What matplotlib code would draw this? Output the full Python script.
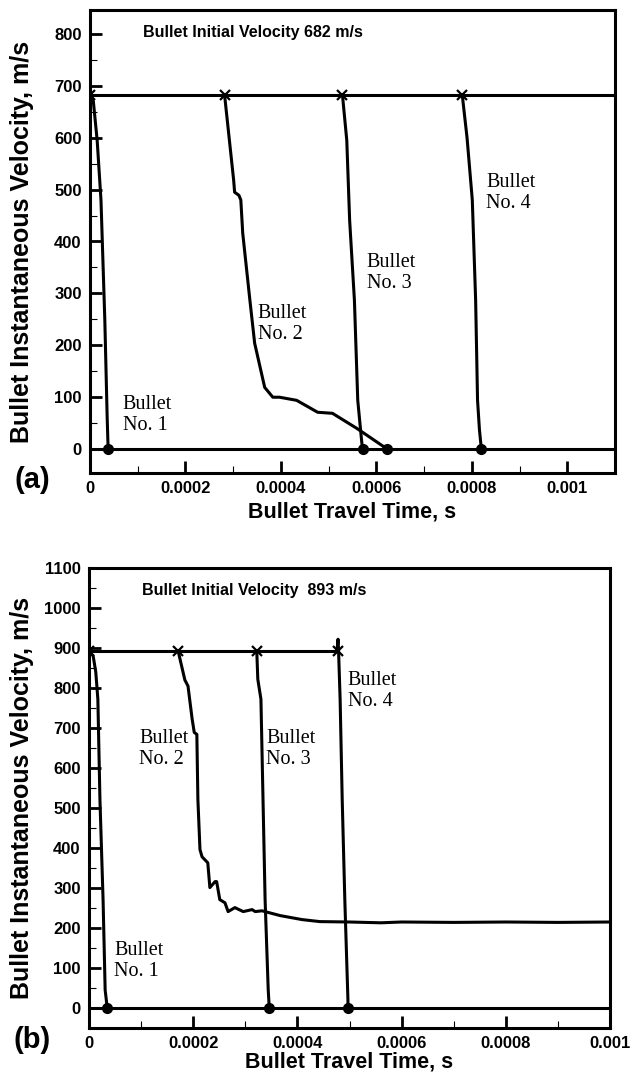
import matplotlib
matplotlib.use('Agg')
import matplotlib.pyplot as plt
from matplotlib.ticker import MultipleLocator, FuncFormatter

plt.rcParams['font.family'] = 'Liberation Sans'
plt.rcParams['font.weight'] = 'bold'

# ---- panel (a): initial velocity 682 m/s ----
a_v0 = 682
a_flat_t = [0, 0.0011]
a_b1_t = [0, 0.000007, 0.000015, 0.000023, 0.000031, 0.000036, 0.000038]
a_b1_v = [682, 670, 595, 480, 250, 60, 0]
a_b2_t = [0.000282, 0.000301, 0.000303, 0.000312, 0.000316, 0.000320, 0.000335, 0.000345,
          0.000366, 0.000383, 0.000397, 0.000433, 0.000477, 0.000508, 0.000559, 0.000623]
a_b2_v = [682, 518, 495, 489, 480, 416, 287, 204, 119, 100, 100, 94, 71, 69, 40, 0]
a_b3_t = [0.000529, 0.000538, 0.000544, 0.000554, 0.000561, 0.000569, 0.000571]
a_b3_v = [682, 595, 441, 287, 94, 17, 0]
a_b4_t = [0.000780, 0.000790, 0.000801, 0.000808, 0.000812, 0.000816, 0.000820]
a_b4_v = [682, 600, 480, 287, 94, 37, 0]
a_starts = [0, 0.000282, 0.000529, 0.000780]
a_ends = [0.000038, 0.000571, 0.000623, 0.000820]

# ---- panel (b): initial velocity 893 m/s ----
b_v0 = 893
b_flat_t = [0, 0.000476]
b_zero_t = [0, 0.001]
b_b1_t = [0, 0.000008, 0.000013, 0.000017, 0.000021, 0.000027, 0.000031, 0.000035]
b_b1_v = [893, 880, 840, 772, 521, 271, 45, 0]
b_b2_t = [0.000171, 0.000184, 0.000190, 0.000198, 0.000202, 0.000207, 0.000209, 0.000213,
          0.000217, 0.000228, 0.000232, 0.000242, 0.000245, 0.000251, 0.000261, 0.000267,
          0.000280, 0.000296, 0.000313, 0.000319, 0.000332, 0.000367, 0.000409, 0.000443,
          0.000500, 0.000560, 0.000600, 0.000700, 0.000800, 0.000900, 0.001000]
b_b2_v = [893, 820, 805, 722, 689, 684, 521, 396, 378, 363, 301, 316, 316, 271, 263, 241,
          251, 241, 246, 241, 243, 231, 221, 216, 215, 213, 215, 214, 215, 214, 215]
b_b3_t = [0.000322, 0.000324, 0.000330, 0.000334, 0.000338, 0.000344, 0.000346]
b_b3_v = [893, 822, 772, 521, 271, 45, 0]
b_b4_t = [0.000476, 0.000478, 0.000479, 0.000482, 0.000486, 0.000491, 0.000497, 0.000497]
b_b4_v = [893, 922, 893, 772, 521, 271, 20, 0]
b_starts = [0, 0.000171, 0.000322, 0.000478]
b_ends = [0.000035, 0.000346, 0.000497]

LW = 2.2

fig = plt.figure(figsize=(6.44, 10.78), dpi=100)
ax1 = fig.add_axes([90/644, 1 - 473/1078, 525/644, 463/1078])
ax2 = fig.add_axes([89/644, 1 - 1028/1078, 521/644, 460/1078])


def style(ax, xmax, ymin, ymax, ymaj):
    ax.set_xlim(0, xmax)
    ax.set_ylim(ymin, ymax)
    ax.xaxis.set_major_locator(MultipleLocator(0.0002))
    ax.xaxis.set_minor_locator(MultipleLocator(0.0001))
    ax.yaxis.set_major_locator(MultipleLocator(ymaj))
    ax.yaxis.set_minor_locator(MultipleLocator(ymaj / 2))
    ax.xaxis.set_major_formatter(FuncFormatter(lambda v, p: '%g' % round(v, 6)))
    ax.tick_params(which='both', direction='in', top=False, right=False, labelsize=12)
    ax.tick_params(which='major', length=8.5, width=2, pad=6)
    ax.tick_params(which='minor', length=5, width=0.8)
    for s in ax.spines.values():
        s.set_linewidth(2.2)
    ax.set_xlabel('Bullet Travel Time, s', fontsize=15.5, fontweight='bold')
    ax.set_ylabel('Bullet Instantaneous Velocity, m/s', fontsize=18, fontweight='bold')
    ax.yaxis.label.set_va('center')
    ax.xaxis.label.set_va('center')


def bullet_label(ax, x, y, n):
    ax.text(x, y, 'Bullet\nNo. %d' % n, family='Liberation Serif', fontweight='normal',
            fontsize=14.5, ha='left', va='center', linespacing=1.15)


# panel (a)
ax = ax1
ax.plot(a_flat_t, [a_v0, a_v0], color='k', lw=LW)
ax.plot(a_flat_t, [0, 0], color='k', lw=LW)
for t, v in [(a_b1_t, a_b1_v), (a_b2_t, a_b2_v), (a_b3_t, a_b3_v), (a_b4_t, a_b4_v)]:
    ax.plot(t, v, color='k', lw=LW)
ax.plot(a_starts, [a_v0] * len(a_starts), 'x', color='k', ms=7, mew=1.6)
ax.plot(a_ends, [0] * len(a_ends), 'o', color='k', ms=7)
style(ax, 0.0011, -46, 846, 100)
ax.yaxis.set_label_coords(-0.1295, 0.5)
ax.xaxis.set_label_coords(0.5, (473 - 512) / 463)
ax.text(0.000111, 803, 'Bullet Initial Velocity 682 m/s', fontsize=11.5, fontweight='bold', va='center')
bullet_label(ax, 0.000069, 65, 1)
bullet_label(ax, 0.000351, 241, 2)
bullet_label(ax, 0.000580, 339, 3)
bullet_label(ax, 0.000830, 493, 4)

# panel (b)
ax = ax2
ax.plot(b_flat_t, [b_v0, b_v0], color='k', lw=LW)
ax.plot(b_zero_t, [0, 0], color='k', lw=LW)
for t, v in [(b_b1_t, b_b1_v), (b_b2_t, b_b2_v), (b_b3_t, b_b3_v), (b_b4_t, b_b4_v)]:
    ax.plot(t, v, color='k', lw=LW)
ax.plot(b_starts, [b_v0] * len(b_starts), 'x', color='k', ms=7, mew=1.6)
ax.plot(b_ends, [0] * len(b_ends), 'o', color='k', ms=7)
style(ax, 0.001, -50, 1100, 100)
ax.yaxis.set_label_coords(-0.1286, 0.5)
ax.xaxis.set_label_coords(0.5, (1028 - 1062) / 460)
ax.text(0.000102, 1045, 'Bullet Initial Velocity  893 m/s', fontsize=11.5, fontweight='bold', va='center')
bullet_label(ax, 0.000048, 118, 1)
bullet_label(ax, 0.000096, 647, 2)
bullet_label(ax, 0.000340, 647, 3)
bullet_label(ax, 0.000497, 792, 4)

fig.text(32/644, 1 - 480/1078, '(a)', fontsize=21, fontweight='bold', ha='center', va='center')
fig.text(32/644, 1 - 1040/1078, '(b)', fontsize=21, fontweight='bold', ha='center', va='center')

fig.savefig('out.png', dpi=100)
